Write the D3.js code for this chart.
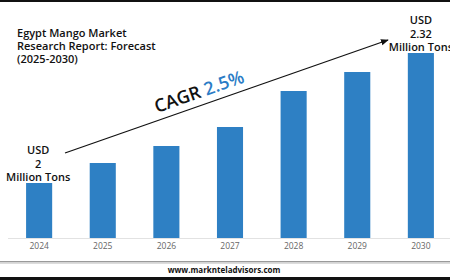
<!DOCTYPE html>
<html>
<head>
  <script src="https://d3js.org/d3.v7.min.js"></script>
  <style>
    body { margin: 0; background: #fff; }
    svg { display: block; }
  </style>
</head>
<body>
  <svg id="chart" width="450" height="280"></svg>

  <script>
    // Chart data (bar heights, relative units)
    const years = ['2024', '2025', '2026', '2027', '2028', '2029', '2030'];
    const values = [55, 75, 92, 111, 147, 166, 185];
    const titleLines = ['Egypt Mango Market', 'Research Report: Forecast', '(2025-2030)'];
    const startLabel = ['USD', '2', 'Million Tons'];
    const endLabel = ['USD', '2.32', 'Million Tons'];

    const svg = d3.select('#chart');
    const font = 'Open Sans, Lato, sans-serif';

    const x = d3.scaleBand()
      .domain(years)
      .range([7, 453])
      .paddingInner(0.59)
      .paddingOuter(0.3);

    const y = d3.scaleLinear()
      .domain([0, 200])
      .range([238, 38]);

    // frame lines
    svg.append('rect').attr('x', 0).attr('y', 0).attr('width', 450).attr('height', 2).attr('fill', '#111');
    svg.append('rect').attr('x', 0).attr('y', 277).attr('width', 450).attr('height', 3).attr('fill', '#111');
    svg.append('rect').attr('x', 0).attr('y', 261).attr('width', 450).attr('height', 1.5).attr('fill', '#9a9a9a');
    svg.append('rect').attr('x', 0).attr('y', 262.5).attr('width', 450).attr('height', 1.5).attr('fill', '#dcdcdc');

    // bars
    svg.selectAll('rect.bar')
      .data(values)
      .join('rect')
      .attr('class', 'bar')
      .attr('x', (d, i) => x(years[i]))
      .attr('y', d => y(d))
      .attr('width', x.bandwidth())
      .attr('height', d => y(0) - y(d))
      .attr('fill', '#2e80c4');

    // baseline + year axis
    const axis = svg.append('g')
      .attr('transform', `translate(0,${y(0)})`)
      .call(d3.axisBottom(x).tickSize(0).tickPadding(5));
    axis.select('.domain').remove();
    axis.append('line').attr('x1', 8).attr('x2', 450).attr('y1', 0.5).attr('y2', 0.5)
      .attr('stroke', '#e2e2e2').attr('stroke-width', 1);
    axis.selectAll('text')
      .attr('font-family', font)
      .attr('font-size', 8.5)
      .attr('fill', '#666');

    // title
    svg.append('text')
      .attr('font-family', font)
      .attr('font-weight', 600)
      .attr('font-size', 11)
      .attr('fill', '#111')
      .selectAll('tspan')
      .data(titleLines)
      .join('tspan')
      .attr('x', 17)
      .attr('y', (d, i) => 37 + i * 13)
      .text(d => d);

    // start / end annotations
    function stack(lines, cx, y0) {
      svg.append('text')
        .attr('font-family', font)
        .attr('font-weight', 600)
        .attr('font-size', 11)
        .attr('fill', '#111')
        .attr('text-anchor', 'middle')
        .selectAll('tspan')
        .data(lines)
        .join('tspan')
        .attr('x', cx)
        .attr('y', (d, i) => y0 + i * 13.5)
        .text(d => d);
    }
    stack(startLabel, x(years[0]) + x.bandwidth() / 2 - 1, 154);
    stack(endLabel, x(years[6]) + x.bandwidth() / 2, 24);

    // CAGR arrow
    svg.append('defs').append('marker')
      .attr('id', 'arr')
      .attr('viewBox', '0 0 10 10')
      .attr('refX', 9).attr('refY', 5)
      .attr('markerWidth', 6).attr('markerHeight', 6)
      .attr('orient', 'auto')
      .append('path').attr('d', 'M0,1 L10,5 L0,9 z').attr('fill', '#111');

    const a0 = [65, 153], a1 = [388, 40];
    svg.append('line')
      .attr('x1', a0[0]).attr('y1', a0[1])
      .attr('x2', a1[0]).attr('y2', a1[1])
      .attr('stroke', '#111').attr('stroke-width', 1.3)
      .attr('marker-end', 'url(#arr)');

    const ang = Math.atan2(a1[1] - a0[1], a1[0] - a0[0]) * 180 / Math.PI;
    const cagr = svg.append('text')
      .attr('transform', `translate(157,113) rotate(${ang})`)
      .attr('font-family', font)
      .attr('font-weight', 600)
      .attr('font-size', 18);
    cagr.append('tspan').attr('fill', '#111').text('CAGR ');
    cagr.append('tspan').attr('fill', '#2b7cc6').text('2.5%');

    // footer
    svg.append('text')
      .attr('x', 224).attr('y', 273)
      .attr('text-anchor', 'middle')
      .attr('font-family', font)
      .attr('font-weight', 700)
      .attr('font-size', 8)
      .attr('fill', '#111')
      .text('www.marknteladvisors.com');
  </script>
</body>
</html>
